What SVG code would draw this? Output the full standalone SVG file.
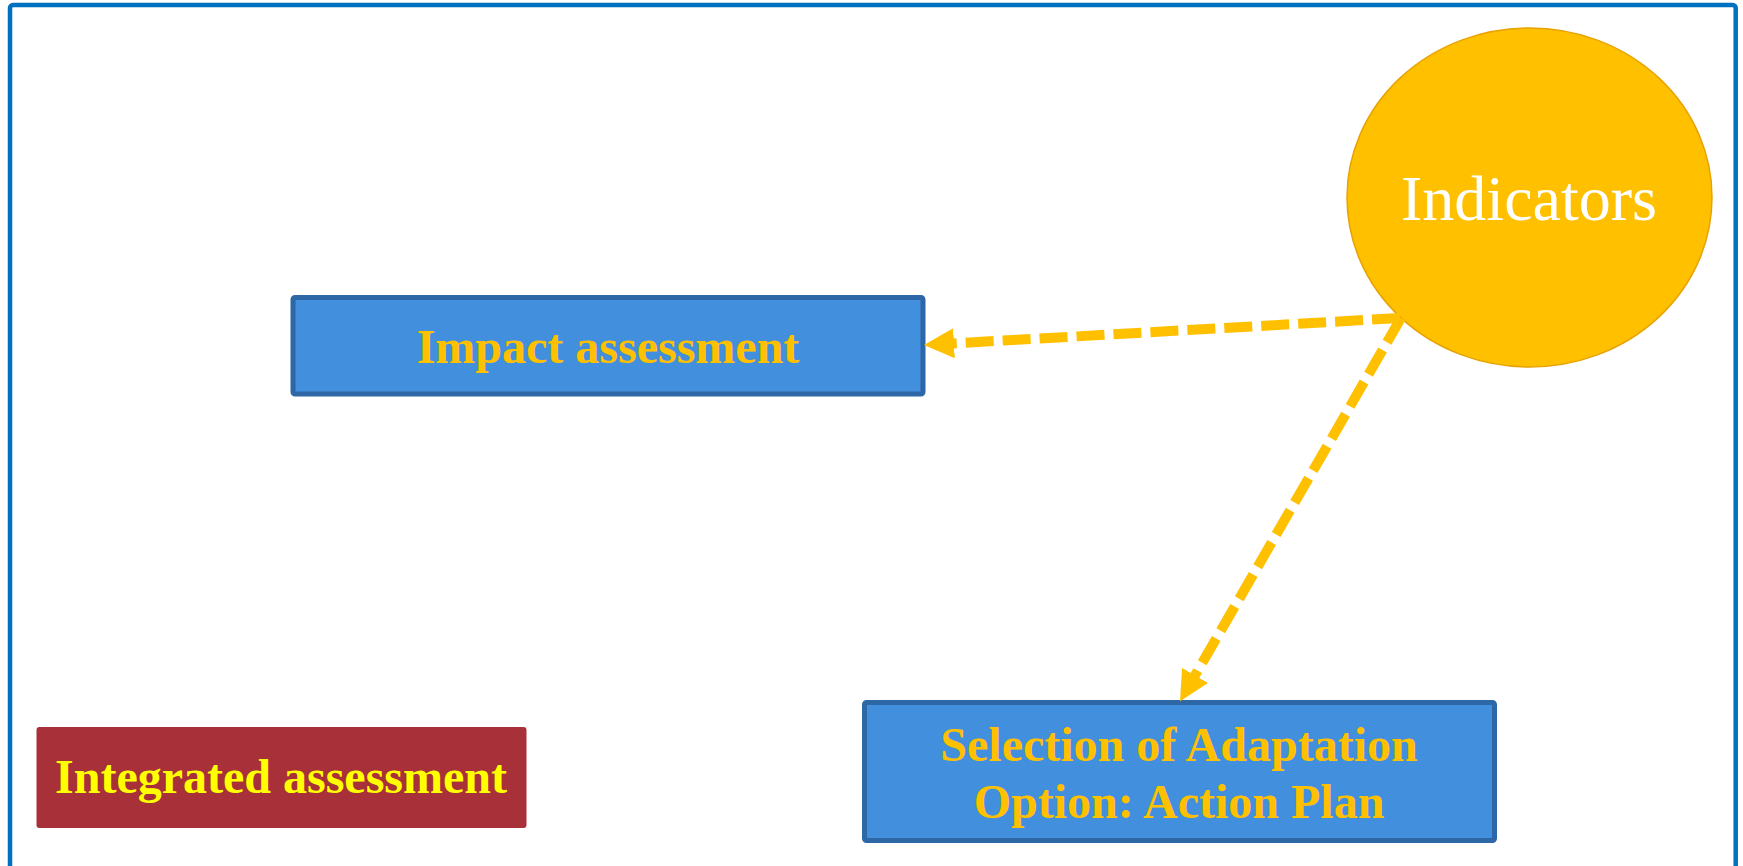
<svg xmlns="http://www.w3.org/2000/svg" width="1743" height="866" viewBox="0 0 1743 866">
<style>
.box{fill:#428FDD;stroke:#2E67A6;stroke-width:5}
.lbl{font-family:"Liberation Serif","Times New Roman",serif;font-weight:bold;font-size:48px;fill:#FFC000;text-anchor:middle}
.conn{fill:none;stroke:#FFC000;stroke-width:10;stroke-dasharray:28 9}
</style>
<defs>
<marker id="ah" markerUnits="userSpaceOnUse" markerWidth="30" markerHeight="30" viewBox="0 0 28 28" refX="1" refY="14" orient="auto">
<path d="M0,0 L28,14 L0,28 Z" fill="#FFC000"/>
</marker>
</defs>
<rect width="1743" height="866" fill="#FFFFFF"/>
<rect id="frame" x="10" y="5" width="1725.7" height="900" rx="3" fill="none" stroke="#0070C0" stroke-width="4.5"/>
<g id="indicators">
<ellipse cx="1529.5" cy="197.5" rx="182.5" ry="169.5" fill="#FFC000" stroke="#E8A202" stroke-width="1.5"/>
<text x="1529" y="220" font-family="'Liberation Serif','Times New Roman',serif" font-size="64" fill="#FFFFFF" text-anchor="middle">Indicators</text>
</g>
<g id="impact">
<rect class="box" x="293" y="297.5" width="630" height="96.5" rx="2"/>
<text class="lbl" x="608" y="363">Impact assessment</text>
</g>
<g id="selection">
<rect class="box" x="864.5" y="702.5" width="630" height="138" rx="2"/>
<text class="lbl" x="1179" y="761">Selection of Adaptation</text>
<text class="lbl" x="1179" y="818">Option: Action Plan</text>
</g>
<g id="integrated">
<rect x="36.5" y="727" width="490" height="101" rx="3" fill="#A83039"/>
<text x="281" y="793" font-family="'Liberation Serif','Times New Roman',serif" font-weight="bold" font-size="48" fill="#FFFF00" text-anchor="middle">Integrated assessment</text>
</g>
<g id="connectors">
<line class="conn" x1="1400" y1="318" x2="952.9" y2="343.4" marker-end="url(#ah)"/>
<line class="conn" x1="1401" y1="318" x2="1194.5" y2="676.3" marker-end="url(#ah)"/>
</g>
</svg>
